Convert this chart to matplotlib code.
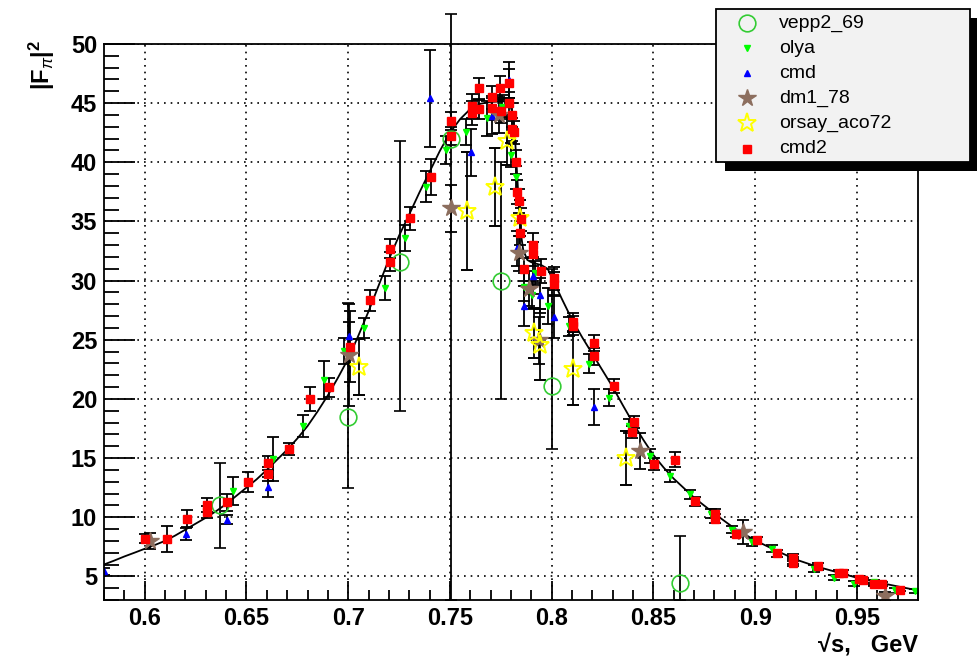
import matplotlib
matplotlib.use("Agg")
import matplotlib.pyplot as plt
from matplotlib.lines import Line2D
from matplotlib.patches import Rectangle
from matplotlib.ticker import MultipleLocator

plt.rcParams["font.family"] = ["Liberation Sans", "DejaVu Sans"]
plt.rcParams["mathtext.fontset"] = "custom"
plt.rcParams["mathtext.rm"] = "Liberation Sans"
plt.rcParams["mathtext.it"] = "Liberation Sans:italic"
plt.rcParams["mathtext.bf"] = "Liberation Sans:bold"

# fit curve
curve_x = [0.58, 0.585, 0.59, 0.595, 0.60, 0.605, 0.61, 0.615, 0.62, 0.625, 0.63, 0.635,
           0.64, 0.645, 0.65, 0.655, 0.66, 0.665, 0.67, 0.675, 0.68, 0.685, 0.69, 0.695,
           0.70, 0.705, 0.71, 0.715, 0.72, 0.725, 0.73, 0.735, 0.74, 0.745, 0.75, 0.755,
           0.76, 0.765, 0.77, 0.775, 0.778, 0.780, 0.781, 0.782, 0.783, 0.784, 0.785,
           0.786, 0.788, 0.790, 0.792, 0.795, 0.798, 0.800, 0.805,
           0.81, 0.815, 0.82, 0.825, 0.83, 0.835, 0.84, 0.845, 0.85, 0.855, 0.86, 0.87,
           0.88, 0.89, 0.90, 0.91, 0.92, 0.93, 0.94, 0.95, 0.96, 0.97, 0.98]
curve_y = [6.0, 6.33, 6.68, 7.0, 7.33, 7.65, 8.0, 8.45, 8.95, 9.45, 9.95, 10.5,
           11.1, 11.8, 12.5, 13.2, 14.0, 14.85, 15.7, 16.65, 17.7, 18.95, 20.3, 21.8,
           23.4, 25.35, 27.4, 29.6, 31.8, 33.8, 35.6, 37.45, 39.2, 40.95, 42.5, 43.65,
           44.5, 44.95, 45.1, 45.15, 45.15, 44.6, 44.0, 42.0, 39.0, 36.0, 33.8,
           32.6, 31.75, 31.55, 31.45, 31.3, 31.0, 30.3, 28.45,
           26.7, 25.2, 23.8, 22.4, 21.0, 19.45, 17.95, 16.55, 15.25, 14.2, 13.25, 11.65,
           10.3, 9.03, 8.04, 7.2, 6.42, 5.84, 5.36, 4.88, 4.5, 4.15, 3.81]

# vepp2_69
vepp_x = [0.637, 0.700, 0.7255, 0.7505, 0.775, 0.800, 0.863]
vepp_y = [11.0, 18.5, 31.6, 42.0, 30.0, 21.1, 4.4]
vepp_lo = [3.6, 6.0, 12.6, 39.0, 10.0, 5.3, 1.4]
vepp_hi = [3.6, 9.6, 10.2, 10.5, 10.0, 9.9, 4.0]

# olya
olya_x = [0.6433, 0.6629, 0.678, 0.6882, 0.698, 0.7078, 0.7181, 0.728, 0.7381, 0.7481,
          0.758, 0.7682, 0.7758, 0.7801, 0.7823, 0.7865, 0.7903, 0.7916, 0.7984, 0.8083,
          0.8181, 0.8284, 0.8381, 0.8481, 0.8583, 0.8681, 0.8783, 0.8886, 0.8984, 0.9083,
          0.9186, 0.9287, 0.9386, 0.9484, 0.9586, 0.9686, 0.9787]
olya_y = [12.21, 14.92, 17.7, 21.63, 24.03, 26.03, 29.38, 33.64, 37.93, 41.03,
          42.58, 43.71, 44.7, 40.6, 38.72, 29.47, 28.76, 30.65, 27.86, 26.14,
          22.98, 20.1, 17.7, 15.14, 13.45, 11.93, 10.3, 8.94, 7.9, 7.33,
          6.34, 5.64, 4.88, 4.37, 4.51, 3.81, 3.75]
olya_err = [1.2, 1.9, 0.9, 1.6, 1.1, 0.85, 1.0, 1.1, 1.3, 1.2,
            1.1, 1.5, 1.0, 1.0, 1.0, 1.2, 1.2, 1.0, 1.5, 0.8,
            0.8, 0.7, 0.6, 0.6, 0.5, 0.4, 0.4, 0.3, 0.3, 0.3,
            0.3, 0.3, 0.2, 0.2, 0.2, 0.2, 0.2]

# cmd
cmd_x = [0.58, 0.6203, 0.6403, 0.6605, 0.7005, 0.7403, 0.7604, 0.7706, 0.7788, 0.7828,
         0.7906, 0.7944, 0.7865, 0.8009, 0.8206]
cmd_y = [5.44, 8.55, 9.79, 12.55, 25.3, 45.41, 40.84, 43.9, 46.95, 32.72,
         30.4, 28.76, 27.83, 26.93, 19.31]
cmd_err = [0.3, 0.5, 0.4, 0.85, 1.2, 4.1, 2.0, 1.5, 1.5, 1.5,
           1.5, 1.5, 1.7, 1.8, 1.5]

# dm1_78
dm1_x = [0.6026, 0.7006, 0.7506, 0.7739, 0.7837, 0.7886, 0.794, 0.8436, 0.894, 0.964]
dm1_y = [7.98, 23.7, 36.1, 43.99, 32.3, 29.33, 24.96, 15.6, 8.74, 3.3]
dm1_err = [0.7, 4.3, 2.0, 1.5, 1.5, 1.5, 2.0, 1.5, 1.0, 0.4]

# orsay_aco72
orsay_x = [0.7055, 0.7586, 0.7722, 0.778, 0.7846, 0.7911, 0.7944, 0.8104, 0.8365]
orsay_y = [22.7, 35.87, 37.93, 41.8, 35.3, 25.58, 24.59, 22.56, 15.0]
orsay_err = [2.4, 5.0, 3.3, 2.0, 1.5, 2.1, 3.0, 3.1, 2.3]

# cmd2
cmd2_x = [0.600, 0.611, 0.6207, 0.6305, 0.6308, 0.6406, 0.6508, 0.6608, 0.6608, 0.6708,
          0.681, 0.6908, 0.701, 0.7108, 0.7206, 0.7206, 0.7304, 0.7406, 0.7506, 0.7506,
          0.7608, 0.7608, 0.7645, 0.7645, 0.7706, 0.7706, 0.7747, 0.7749, 0.7788, 0.7788,
          0.7804, 0.7804, 0.7816, 0.7825, 0.7829, 0.7837, 0.7848, 0.7845, 0.7908, 0.7908,
          0.7865, 0.7947, 0.8009, 0.8009, 0.8107, 0.8107, 0.8206, 0.8206, 0.8307, 0.8406,
          0.8395, 0.8501, 0.8604, 0.8702, 0.8804, 0.8804, 0.8905, 0.9009, 0.9107, 0.9186,
          0.9186, 0.9307, 0.941, 0.9432, 0.9508, 0.9528, 0.9586, 0.9623, 0.971]
cmd2_y = [8.18, 8.12, 9.87, 10.43, 11.06, 11.25, 12.94, 13.68, 14.58, 15.76,
          19.99, 21.0, 24.39, 28.34, 32.71, 31.58, 35.25, 38.77, 43.49, 42.22,
          44.75, 44.14, 46.25, 44.47, 45.49, 44.61, 46.3, 44.33, 46.67, 44.98,
          44.0, 42.78, 42.53, 40.04, 37.5, 36.74, 35.17, 34.04, 33.0, 32.23,
          30.94, 30.82, 30.18, 29.75, 26.5, 26.2, 24.73, 23.6, 21.1, 18.05,
          17.2, 14.53, 14.87, 11.34, 10.3, 9.87, 8.6, 8.04, 6.96, 6.57,
          6.15, 5.84, 5.3, 5.3, 4.8, 4.65, 4.32, 4.37, 3.87]
cmd2_err = [0.4, 1.1, 0.7, 0.5, 0.6, 0.7, 0.85, 0.6, 0.6, 0.5,
            1.0, 0.8, 3.0, 0.9, 0.8, 0.8, 1.0, 1.5, 0.8, 0.8,
            1.0, 1.0, 0.9, 0.8, 1.0, 1.0, 1.0, 1.0, 1.2, 1.0,
            1.0, 1.0, 1.0, 1.0, 1.0, 1.0, 1.0, 1.0, 1.0, 1.0,
            1.0, 1.0, 1.0, 1.0, 0.8, 0.8, 0.7, 0.7, 0.6, 0.5,
            0.5, 0.5, 0.6, 0.4, 0.4, 0.4, 0.3, 0.3, 0.3, 0.3,
            0.3, 0.3, 0.2, 0.2, 0.2, 0.2, 0.15, 0.15, 0.15]

xticks = [0.6, 0.65, 0.7, 0.75, 0.8, 0.85, 0.9, 0.95]
xtick_labels = ["0.6", "0.65", "0.7", "0.75", "0.8", "0.85", "0.9", "0.95"]
yticks = [5, 10, 15, 20, 25, 30, 35, 40, 45, 50]

W, H = 978, 658
fig = plt.figure(figsize=(W / 100, H / 100), dpi=100)
ax = fig.add_axes([104 / W, 1 - 600 / H, 814 / W, 556 / H])
ax.set_xlim(0.58, 0.98)
ax.set_ylim(3, 50)

ax.set_axisbelow(True)
ax.grid(True, which="major", color="black", linestyle=(0, (1, 3)), linewidth=1.2)

ax.plot(curve_x, curve_y, color="black", lw=1.3, zorder=2)

eb = dict(ecolor="black", elinewidth=1.3, capsize=4, capthick=1.3, linestyle="none")
ax.errorbar(vepp_x, vepp_y, yerr=[vepp_lo, vepp_hi], marker="o", ms=12, mfc="none",
            mec="#33cc33", mew=1.2, clip_on=False, **eb)
ax.errorbar(olya_x, olya_y, yerr=olya_err, marker="v", ms=5, color="#00ff00", **eb)
ax.errorbar(cmd_x, cmd_y, yerr=cmd_err, marker="^", ms=5, color="#0000ff", **eb)
ax.errorbar(dm1_x, dm1_y, yerr=dm1_err, marker="*", ms=13, color="#8c6e5e", mec="#8c6e5e", **eb)
ax.errorbar(orsay_x, orsay_y, yerr=orsay_err, marker="*", ms=14, mfc="none", mec="#ffff00",
            mew=1.4, **eb)
ax.errorbar(cmd2_x, cmd2_y, yerr=cmd2_err, marker="s", ms=5.8, color="#ff0000", **eb)

ax.set_xticks(xticks, xtick_labels, fontweight="bold", fontsize=17)
ax.set_yticks(yticks, [str(v) for v in yticks], fontweight="bold", fontsize=17)
ax.xaxis.set_minor_locator(MultipleLocator(0.01))
ax.yaxis.set_minor_locator(MultipleLocator(1))
ax.tick_params(which="both", direction="in", top=False, right=False, width=1.3)
ax.tick_params(axis="x", which="major", length=14, pad=5)
ax.tick_params(axis="x", which="minor", length=7)
ax.tick_params(axis="y", which="major", length=22, pad=5)
ax.tick_params(axis="y", which="minor", length=11)
for s in ax.spines.values():
    s.set_linewidth(1.3)

fig.text(918 / W, 1 - 645 / H, "\u221as,   GeV", ha="right", va="center",
         fontsize=17, fontweight="bold")
fig.text(42 / W, 1 - 65 / H, r"$\mathbf{|F}_{\pi}\mathbf{|}^{\mathbf{2}}$", rotation=90,
         ha="center", va="center", fontsize=17)

# legend box with ROOT style shadow
lx0, ly0, lx1, ly1 = 716, 9, 970, 162
fig.add_artist(Rectangle(((lx0 + 9) / W, 1 - (ly1 + 9) / H), (lx1 - lx0) / W, (ly1 - ly0) / H,
                         transform=fig.transFigure, facecolor="black", edgecolor="none", zorder=10))
fig.add_artist(Rectangle((lx0 / W, 1 - ly1 / H), (lx1 - lx0) / W, (ly1 - ly0) / H,
                         transform=fig.transFigure, facecolor="#f2f2f2", edgecolor="black",
                         lw=1.3, zorder=11))
names = ["vepp2_69", "olya", "cmd", "dm1_78", "orsay_aco72", "cmd2"]
styles = [dict(marker="o", ms=12, mfc="none", mec="#33cc33", mew=1.2),
          dict(marker="v", ms=5, color="#00ff00"),
          dict(marker="^", ms=5, color="#0000ff"),
          dict(marker="*", ms=13, color="#8c6e5e"),
          dict(marker="*", ms=14, mfc="none", mec="#ffff00", mew=1.4),
          dict(marker="s", ms=5.8, color="#ff0000")]
for i, (name, st) in enumerate(zip(names, styles)):
    yy = 1 - (23 + 25.1 * i) / H
    fig.add_artist(Line2D([747 / W], [yy], transform=fig.transFigure, linestyle="none",
                          zorder=12, **st))
    fig.text(779 / W, yy, name, ha="left", va="center", fontsize=14, zorder=12)

fig.savefig("out.png", dpi=100)
